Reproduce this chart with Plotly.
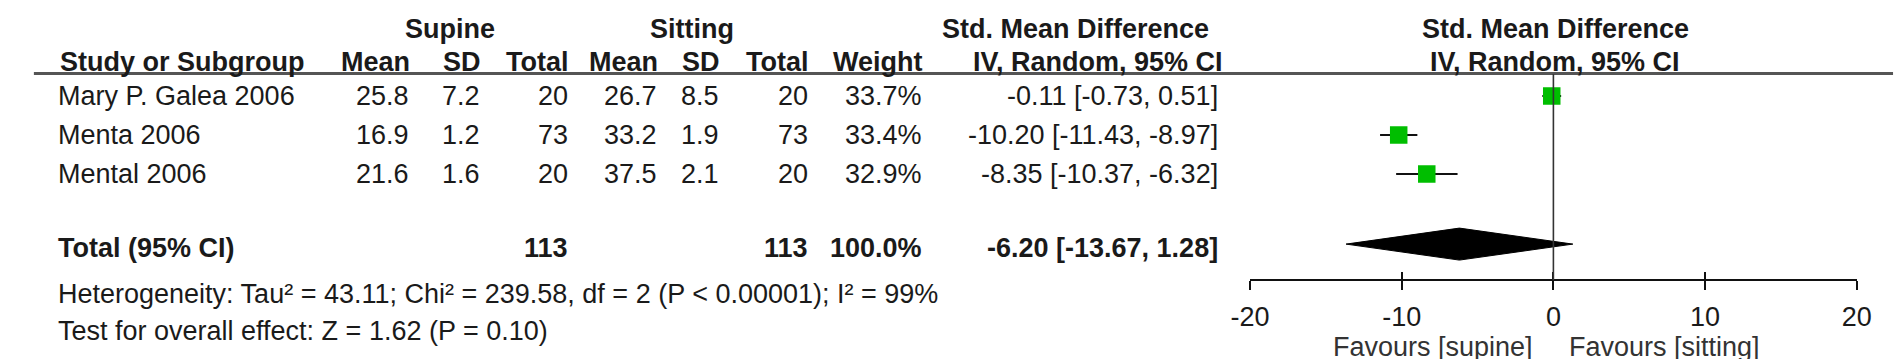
import plotly.graph_objects as go

# ---------------- data ----------------
studies = ["Mary P. Galea 2006", "Menta 2006", "Mental 2006"]
sup_mean = [25.8, 16.9, 21.6]
sup_sd = [7.2, 1.2, 1.6]
sup_n = [20, 73, 20]
sit_mean = [26.7, 33.2, 37.5]
sit_sd = [8.5, 1.9, 2.1]
sit_n = [20, 73, 20]
weight = [33.7, 33.4, 32.9]
smd = [-0.11, -10.20, -8.35]
smd_lo = [-0.73, -11.43, -10.37]
smd_hi = [0.51, -8.97, -6.32]

total_label = "Total (95% CI)"
total_sup_n = 113
total_sit_n = 113
total_weight = 100.0
total_smd = -6.20
total_lo = -13.67
total_hi = 1.28

heterogeneity = "Heterogeneity: Tau² = 43.11; Chi² = 239.58, df = 2 (P < 0.00001); I² = 99%"
overall = "Test for overall effect: Z = 1.62 (P = 0.10)"

tick_vals = [-20, -10, 0, 10, 20]
tick_text = ["-20", "-10", "0", "10", "20"]
fav_left = "Favours [supine]"
fav_right = "Favours [sitting]"

# ---------------- layout helpers ----------------
W, H = 1902, 359
FONT = "Liberation Sans, Arial, Helvetica, sans-serif"
FS = 27
TXT = "#1a1a1a"

ROW0_PX, ROW_STEP = 88.0, 39.0          # pixel centre of first study row, row spacing


def row_of(px):
    return (px - ROW0_PX) / ROW_STEP


def px_x(x):
    return x / W


def px_y(y):
    return 1 - y / H


study_rows = [0, 1, 2]
total_row = row_of(240)
het_row = row_of(286)
ovr_row = row_of(323)
hdr1_row = row_of(21)
hdr2_row = row_of(54)

fig = go.Figure()

# CI whiskers + squares
fig.add_trace(go.Scatter(
    x=smd, y=study_rows, mode="markers",
    marker=dict(symbol="square", size=17.5, color="#00BE00", line=dict(width=0)),
    error_x=dict(type="data", symmetric=False,
                 array=[h - m for h, m in zip(smd_hi, smd)],
                 arrayminus=[m - l for m, l in zip(smd, smd_lo)],
                 color="#111", thickness=2.2, width=0),
    hoverinfo="skip", showlegend=False))

# pooled diamond
dh = 16 / ROW_STEP
fig.add_trace(go.Scatter(
    x=[total_lo, total_smd, total_hi, total_smd, total_lo],
    y=[total_row - 0.1, total_row - 0.1 - dh, total_row - 0.1, total_row - 0.1 + dh, total_row - 0.1],
    mode="lines", fill="toself", fillcolor="#000", line=dict(color="#000", width=1),
    hoverinfo="skip", showlegend=False))

ann = []


def add(text, x, row, anchor="left", bold=False, color=TXT, yref="y"):
    t = f"<b>{text}</b>" if bold else text
    ann.append(dict(text=t, x=px_x(x), xref="paper", y=row, yref=yref,
                    xanchor=anchor, yanchor="middle", showarrow=False,
                    font=dict(family=FONT, size=FS, color=color)))


# header row 1
add("Supine", 430, hdr1_row, "center", True)
add("Sitting", 676, hdr1_row, "center", True)
add("Std. Mean Difference", 1067, hdr1_row, "center", True)
add("Std. Mean Difference", 1556, hdr1_row, "center", True)

# header row 2
add("Study or Subgroup", 31, hdr2_row, "left", True)
col_right = [390, 463, 552, 643, 706, 797, 913]
hdr2 = ["Mean", "SD", "Total", "Mean", "SD", "Total", "Weight"]
for h, xr in zip(hdr2, col_right):
    add(h, xr + 1, hdr2_row, "right", True)
add("IV, Random, 95% CI", 1090, hdr2_row, "center", True)
add("IV, Random, 95% CI", 1556, hdr2_row, "center", True)

# study rows
for i, r in enumerate(study_rows):
    add(studies[i], 29, r, "left")
    vals = [f"{sup_mean[i]:.1f}", f"{sup_sd[i]:.1f}", f"{sup_n[i]}",
            f"{sit_mean[i]:.1f}", f"{sit_sd[i]:.1f}", f"{sit_n[i]}",
            f"{weight[i]:.1f}%"]
    for v, xr in zip(vals, col_right):
        add(v, xr, r, "right")
    add(f"{smd[i]:.2f} [{smd_lo[i]:.2f}, {smd_hi[i]:.2f}]", 1214, r, "right")

# total row
add(total_label, 29, total_row, "left", True)
add(f"{total_sup_n}", col_right[2], total_row, "right", True)
add(f"{total_sit_n}", col_right[5], total_row, "right", True)
add(f"{total_weight:.1f}%", col_right[6], total_row, "right", True)
add(f"{total_smd:.2f} [{total_lo:.2f}, {total_hi:.2f}]", 1214, total_row, "right", True)

# footnotes
add(heterogeneity, 29, het_row, "left")
add(overall, 29, ovr_row, "left")

# favours labels
AX_Y = 272
ann.append(dict(text=fav_left, x=-1.2, xref="x", y=px_y(339), yref="paper",
                xanchor="right", yanchor="middle", showarrow=False,
                font=dict(family=FONT, size=FS, color="#333")))
ann.append(dict(text=fav_right, x=0.9, xref="x", y=px_y(339), yref="paper",
                xanchor="left", yanchor="middle", showarrow=False,
                font=dict(family=FONT, size=FS, color="#333")))

shapes = [
    # header rule
    dict(type="line", xref="paper", yref="paper", x0=px_x(6), x1=px_x(1900),
         y0=px_y(65.5), y1=px_y(65.5), line=dict(color="#555", width=3)),
    # line of no effect
    dict(type="line", xref="x", yref="paper", x0=0, x1=0,
         y0=px_y(66), y1=px_y(AX_Y), line=dict(color="#333", width=1.6)),
]

ax_pos = 1 - AX_Y / H
x_dom = [px_x(1245), px_x(1863)]
common_x = dict(range=[tick_vals[0], tick_vals[-1]], domain=x_dom, anchor="free",
                position=ax_pos, showgrid=False, zeroline=False, fixedrange=True)

fig.update_layout(
    width=W, height=H, margin=dict(l=0, r=0, t=0, b=0),
    paper_bgcolor="white", plot_bgcolor="rgba(0,0,0,0)",
    xaxis=dict(**common_x, showline=True, linecolor="#111", linewidth=2.2,
               ticks="outside", ticklen=9, tickwidth=2, tickcolor="#111",
               tickvals=tick_vals, ticktext=tick_text,
               tickfont=dict(family=FONT, size=FS, color=TXT), ticklabelstandoff=3),
    xaxis2=dict(**common_x, overlaying="x", showline=False,
                ticks="inside", ticklen=8, tickwidth=2, tickcolor="#111",
                tickvals=tick_vals, showticklabels=False),
    yaxis=dict(range=[row_of(H), row_of(0)], domain=[0, 1], visible=False,
               fixedrange=True),
    annotations=ann, shapes=shapes, showlegend=False,
)

# dummy trace to activate xaxis2
fig.add_trace(go.Scatter(x=[tick_vals[0]], y=[row_of(AX_Y)], xaxis="x2", yaxis="y",
                         mode="markers", marker=dict(opacity=0), hoverinfo="skip",
                         showlegend=False))

fig.write_html("out.html", config={"displayModeBar": False})
